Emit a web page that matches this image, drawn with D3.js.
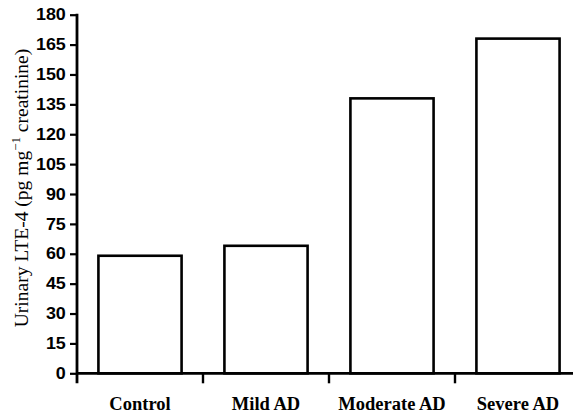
<!DOCTYPE html>
<html>
<head>
<meta charset="utf-8">
<script src="https://cdn.jsdelivr.net/npm/d3@7"></script>
<style>
	html, body { margin: 0; padding: 0; background: #fff; }
	svg { display: block; font-family: "Liberation Serif", "DejaVu Serif", serif; }
	.tick text { font-weight: bold; }
</style>
</head>
<body>
<svg width="573" height="415"></svg>
<script>
// values
var categories = ['Control', 'Mild AD', 'Moderate AD', 'Severe AD'],
	values = [59, 64, 138, 168],
	y_ticks = [0, 15, 30, 45, 60, 75, 90, 105, 120, 135, 150, 165, 180]

var svg = d3.select('svg'),
	x0 = 77, x1 = 581, y_top = 14.7, y_base = 373.3

var x = d3.scaleBand().domain(categories).range([x0, x1])
	.paddingInner(0.34).paddingOuter(0.17)
var y = d3.scaleLinear().domain([0, 180]).range([y_base, y_top])

var gap = (x.step() - x.bandwidth()) / 2

// bars
svg.append('g').selectAll('rect').data(values)
	.enter().append('rect')
	.attr('x', function(d, i) { return x(categories[i]) })
	.attr('y', function(d) { return y(d) })
	.attr('width', x.bandwidth())
	.attr('height', function(d) { return y(0) - y(d) })
	.attr('fill', '#fff')
	.attr('stroke', '#000')
	.attr('stroke-width', 2.6)

// y axis
var ya = svg.append('g')
	.attr('transform', 'translate(' + x0 + ',0)')
	.call(d3.axisLeft(y).tickValues(y_ticks).tickSize(7).tickPadding(3).tickSizeOuter(0))
ya.select('.domain').remove()
ya.selectAll('.tick line').attr('stroke-width', 2.2)
ya.selectAll('.tick text').attr('font-size', 16).attr('fill', '#000')
	.attr('transform', 'scale(1.12,1)')
svg.append('line')
	.attr('x1', x0).attr('x2', x0)
	.attr('y1', y_top - 1).attr('y2', y_base + 10)
	.attr('stroke', '#000').attr('stroke-width', 2.8)

// x axis: baseline and ticks between groups
svg.append('line')
	.attr('x1', x0).attr('x2', x1)
	.attr('y1', y_base).attr('y2', y_base)
	.attr('stroke', '#000').attr('stroke-width', 2.8)
svg.append('g').selectAll('line').data(categories.slice(1))
	.enter().append('line')
	.attr('x1', function(d) { return x(d) - gap })
	.attr('x2', function(d) { return x(d) - gap })
	.attr('y1', y_base).attr('y2', y_base + 10)
	.attr('stroke', '#000').attr('stroke-width', 2.4)

svg.append('g').selectAll('text').data(categories)
	.enter().append('text')
	.attr('x', function(d) { return x(d) + x.bandwidth() / 2 })
	.attr('y', 410)
	.attr('text-anchor', 'middle')
	.attr('font-size', 18.5)
	.attr('font-weight', 'bold')
	.text(function(d) { return d })

// y axis title
var title = svg.append('text')
	.attr('transform', 'translate(28,' + 188 + ') rotate(-90)')
	.attr('text-anchor', 'middle')
	.attr('font-size', 19.5)
title.append('tspan').text('Urinary LTE-4 (pg mg')
title.append('tspan').attr('font-size', 13).attr('dy', -8).text('\u22121')
title.append('tspan').attr('dy', 8).text(' creatinine)')
</script>
</body>
</html>
